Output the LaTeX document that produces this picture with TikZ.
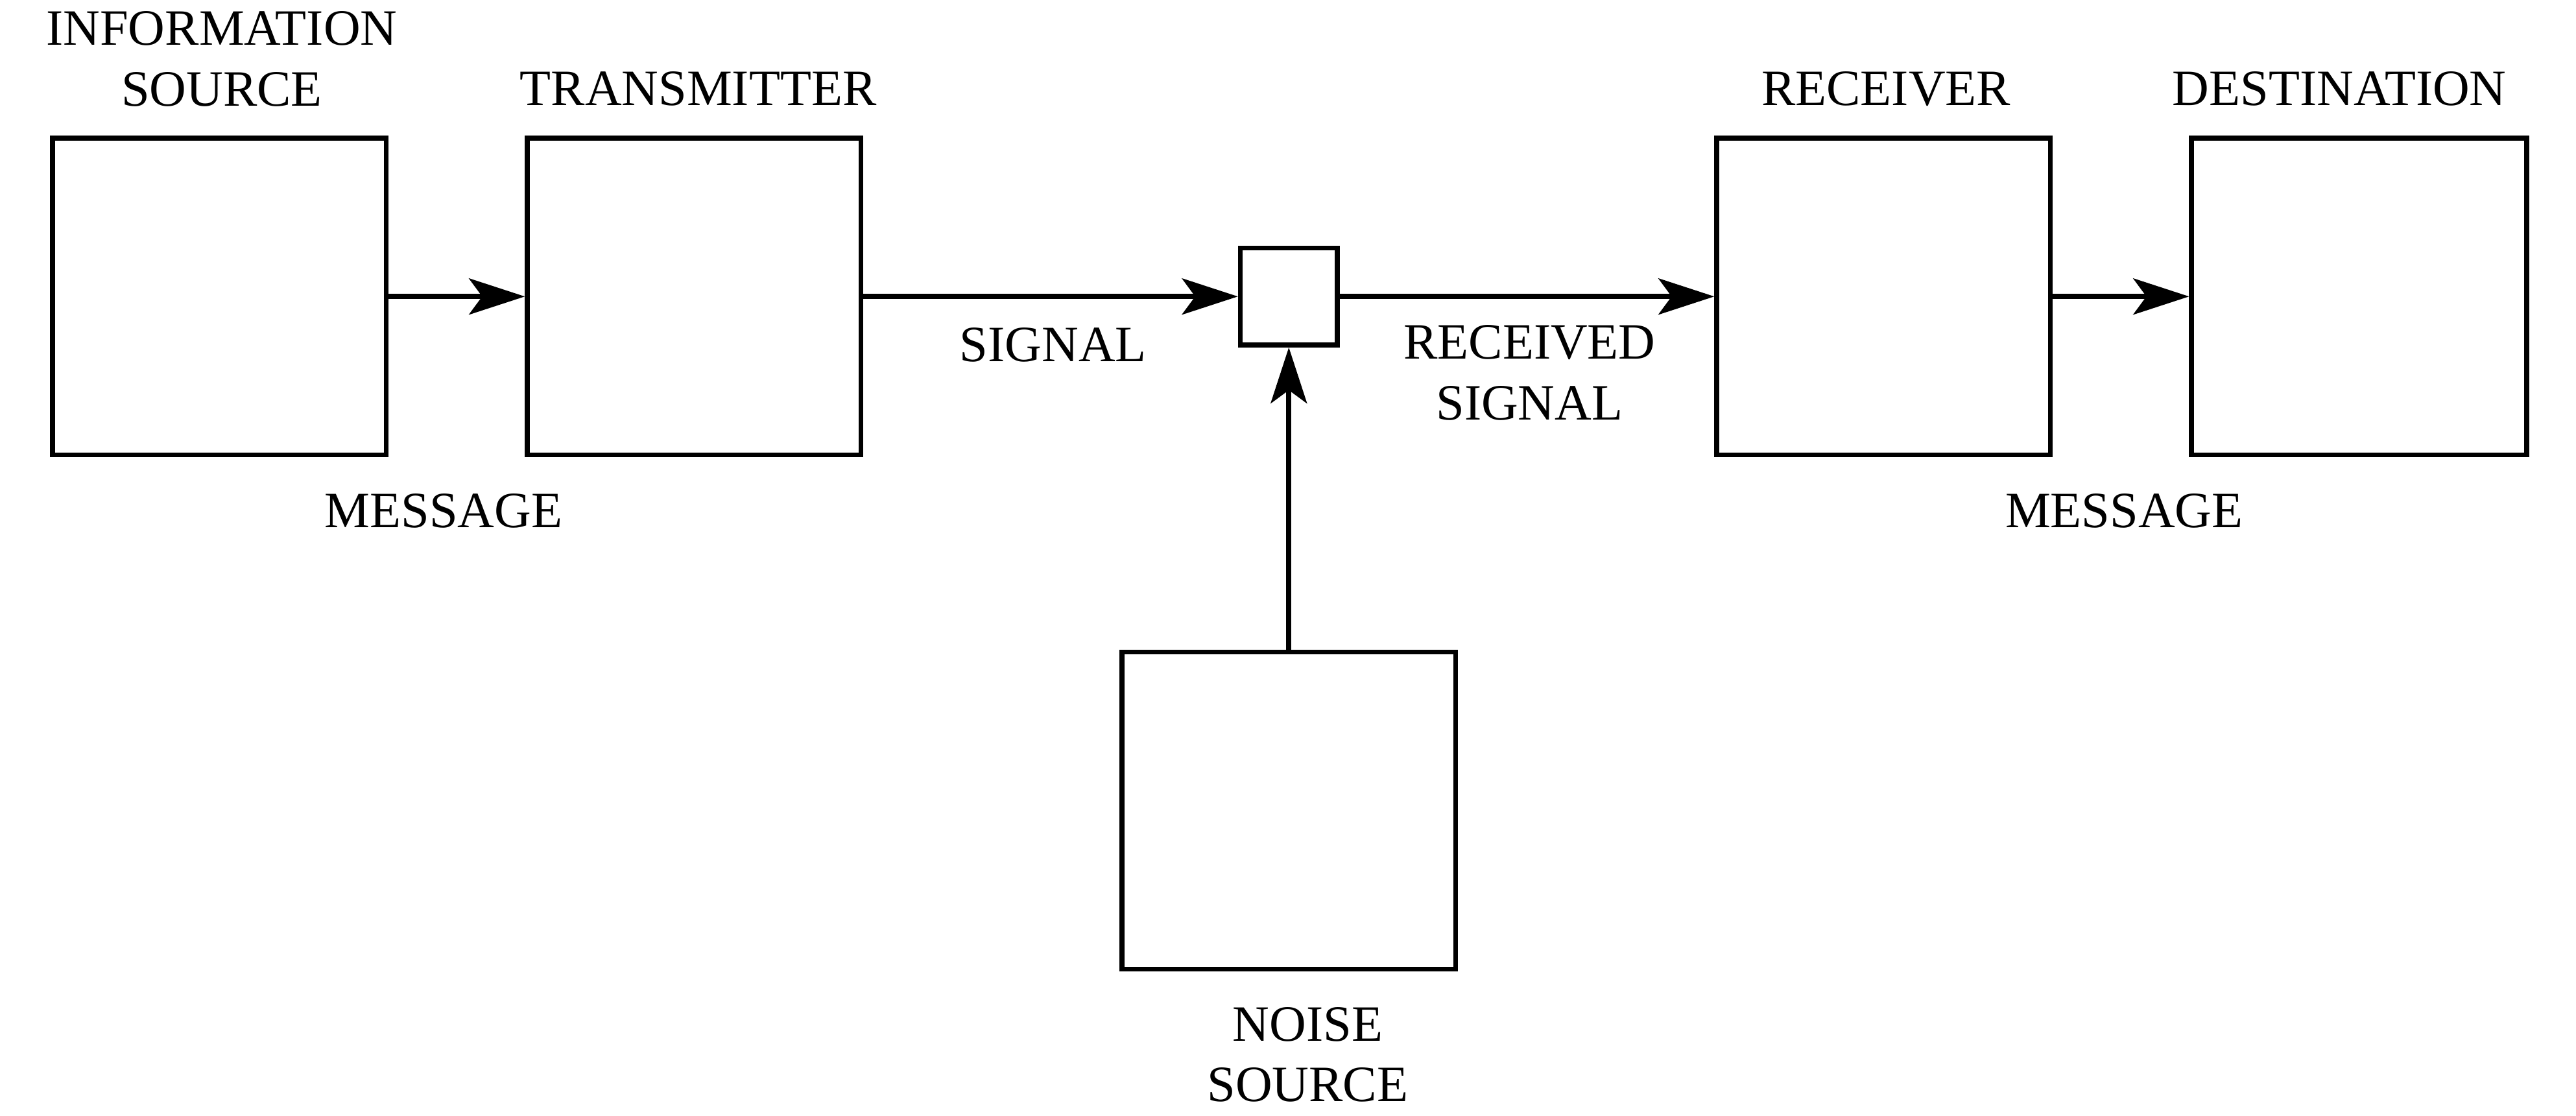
\documentclass[tikz,border=0pt]{standalone}
\usepackage{fontspec}
\setmainfont{Liberation Serif}
\usetikzlibrary{arrows.meta}
\begin{document}
\begin{tikzpicture}[x=1pt,y=-1pt,line width=3pt,
  box/.style={draw,line width=3pt,inner sep=0pt},
  lab/.style={font=\fontsize{31}{37}\selectfont,align=center,inner sep=0pt},
  arr/.style={-{Stealth[length=34pt,width=22pt,inset=8pt]}}]
\useasboundingbox (0,0) rectangle (1568,679);
\node[box,minimum width=203pt,minimum height=193pt] (is) at (133.5,180.5) {};
\node[box,minimum width=203pt,minimum height=193pt] (tr) at (422.5,180.5) {};
\node[box,minimum width=59pt,minimum height=59pt] (ch) at (784.5,180.5) {};
\node[box,minimum width=203pt,minimum height=193pt] (rc) at (1146.5,180.5) {};
\node[box,minimum width=204pt,minimum height=193pt] (ds) at (1436,180.5) {};
\node[box,minimum width=203pt,minimum height=193pt] (ns) at (784.5,493.5) {};
\draw[arr] (is.east) -- (tr.west);
\draw[arr] (tr.east) -- (ch.west);
\draw[arr] (ch.east) -- (rc.west);
\draw[arr] (rc.east) -- (ds.west);
\draw[arr] (ns.north) -- (ch.south);
\node[lab] (l1) at (135,36) {INFORMATION\\SOURCE};
\node[lab] (l2) at (425,54) {TRANSMITTER};
\node[lab] (l3) at (270,311) {MESSAGE};
\node[lab] (l4) at (641,210) {SIGNAL};
\node[lab] (l5) at (931,227) {RECEIVED\\SIGNAL};
\node[lab] (l6) at (1148,54) {RECEIVER};
\node[lab] (l7) at (1424,54) {DESTINATION};
\node[lab] (l8) at (1293,311) {MESSAGE};
\node[lab] (l9) at (796,642) {NOISE\\SOURCE};
\end{tikzpicture}
\end{document}
